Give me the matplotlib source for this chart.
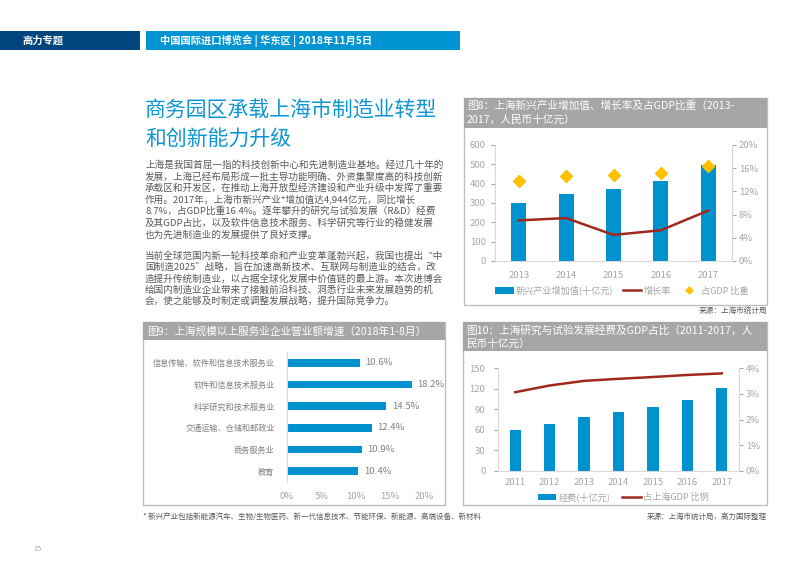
import numpy as np
import matplotlib
matplotlib.use('Agg')
import matplotlib.pyplot as plt
from matplotlib.patches import Rectangle
from matplotlib.lines import Line2D
from matplotlib.ticker import FuncFormatter

plt.rcParams['font.family'] = ['Noto Sans CJK SC', 'DejaVu Sans']

# 图8 数据
years8 = ['2013', '2014', '2015', '2016', '2017']
added_value = [298, 344, 372, 416, 494]      # 新兴产业增加值(十亿元)
growth_rate = [7.0, 7.4, 4.5, 5.3, 8.7]      # 增长率 %
gdp_share = [13.8, 14.6, 14.9, 15.1, 16.4]   # 占GDP比重 %

# 图9 数据
services = ['信息传输、软件和信息技术服务业', '软件和信息技术服务业', '科学研究和技术服务业',
            '交通运输、仓储和邮政业', '商务服务业', '教育']
service_growth = [10.6, 18.2, 14.5, 12.4, 10.9, 10.4]

# 图10 数据
years10 = ['2011', '2012', '2013', '2014', '2015', '2016', '2017']
rd_spend = [60, 68, 78, 86, 93, 103, 121]                 # 经费(十亿元)
rd_gdp = [3.06, 3.32, 3.50, 3.58, 3.65, 3.73, 3.79]       # 占上海GDP比例 %

body1 = ['上海是我国首屈一指的科技创新中心和先进制造业基地。经过几十年的',
         '发展，上海已经布局形成一批主导功能明确、外资集聚度高的科技创新',
         '承载区和开发区，在推动上海开放型经济建设和产业升级中发挥了重要',
         '作用。2017年，上海市新兴产业*增加值达4,944亿元，同比增长',
         '8.7%，占GDP比重16.4%。逐年攀升的研究与试验发展（R&D）经费',
         '及其GDP占比，以及软件信息技术服务、科学研究等行业的稳健发展',
         '也为先进制造业的发展提供了良好支撑。']
body2 = ['当前全球范围内新一轮科技革命和产业变革蓬勃兴起，我国也提出“中',
         '国制造2025”战略，旨在加速高新技术、互联网与制造业的结合，改',
         '造提升传统制造业，以占据全球化发展中价值链的最上游。本次进博会',
         '给国内制造业企业带来了接触前沿科技、洞悉行业未来发展趋势的机',
         '会，使之能够及时制定或调整发展战略，提升国际竞争力。']

BLUE = '#0091cf'
RED = '#a0291c'
GOLD = '#ffc000'
GRID = '#d9d9d9'
TICK = '#a6a6a6'
HEAD = '#a6a6a6'
TXT = '#595959'

W, H = 800, 566
fig = plt.figure(figsize=(8, 5.66), dpi=100)


def fx(x):
    return x / W


def fy(y):
    return 1 - y / H


def axes_px(x0, y0, x1, y1):
    return fig.add_axes([fx(x0), fy(y1), (x1 - x0) / W, (y1 - y0) / H])


def rect_px(x0, y0, x1, y1, **kw):
    fig.patches.append(Rectangle((fx(x0), fy(y1)), (x1 - x0) / W, (y1 - y0) / H,
                                 transform=fig.transFigure, **kw))


def text_px(x, y, s, **kw):
    fig.text(fx(x), fy(y), s, **kw)


# 顶部横条
rect_px(0, 31, 140, 50, facecolor='#00457c', edgecolor='none')
rect_px(146, 31, 460, 50, facecolor='#0094d3', edgecolor='none')
text_px(22, 41, '高力专题', color='white', fontsize=7.4, fontweight='bold', va='center')
text_px(160, 41, '中国国际进口博览会 | 华东区 | 2018年11月5日', color='white',
        fontsize=7.4, fontweight='bold', va='center')

# 标题和正文
text_px(145, 111, '商务园区承载上海市制造业转型', color='#0d96d4', fontsize=15, va='center')
text_px(145, 140, '和创新能力升级', color='#0d96d4', fontsize=15, va='center')
for i, line in enumerate(body1):
    text_px(145, 165 + i * 11.6, line, color=TXT, fontsize=6.9, va='center')
for i, line in enumerate(body2):
    text_px(145, 256 + i * 11.3, line, color=TXT, fontsize=6.9, va='center')

# 图框
for (x0, y0, x1, y1, hb) in [(464, 98, 767, 305, 128), (143, 322, 445, 505, 340),
                             (463, 322, 767, 505, 351)]:
    rect_px(x0, y0, x1, y1, facecolor='none', edgecolor='#bfbfbf', linewidth=1)
    rect_px(x0, y0, x1, hb, facecolor=HEAD, edgecolor='none')

text_px(467, 106, '图8：上海新兴产业增加值、增长率及占GDP比重（2013-', color='white', fontsize=7.7, va='center')
text_px(467, 120, '2017，人民币十亿元）', color='white', fontsize=7.7, va='center')
text_px(147, 331, '图9：上海规模以上服务业企业营业额增速（2018年1-8月）', color='white', fontsize=7.7, va='center')
text_px(466, 330, '图10：上海研究与试验发展经费及GDP占比（2011-2017，人', color='white', fontsize=7.7, va='center')
text_px(466, 344, '民币十亿元）', color='white', fontsize=7.7, va='center')
text_px(767, 312, '来源：上海市统计局', color=TXT, fontsize=5.5, ha='right', va='center')


def style_axis(ax, spines):
    for s in ['top', 'right', 'left', 'bottom']:
        ax.spines[s].set_visible(s in spines)
        ax.spines[s].set_color(GRID)
        ax.spines[s].set_linewidth(0.8)
    ax.set_facecolor('none')
    ax.tick_params(colors=TICK, labelsize=6.8, length=3, width=0.8, labelcolor=TICK)


pct = FuncFormatter(lambda v, p: '%d%%' % v)

# 图8
ax8 = axes_px(495, 145, 732, 261)
x8 = np.arange(len(years8))
b8 = ax8.bar(x8, added_value, width=0.32, color=BLUE, label='新兴产业增加值(十亿元)')
ax8.set_xlim(-0.5, 4.5)
ax8.set_ylim(0, 600)
ax8.set_yticks(range(0, 601, 100))
ax8.set_xticks(x8)
ax8.set_xticklabels(years8)
style_axis(ax8, ['left', 'bottom'])
ax8.tick_params(axis='x', length=0, pad=7)
ax8r = ax8.twinx()
ax8r.set_ylim(0, 20)
ax8r.set_yticks(range(0, 21, 4))
ax8r.yaxis.set_major_formatter(pct)
l8, = ax8r.plot(x8, growth_rate, color=RED, linewidth=1.8, label='增长率')
d8, = ax8r.plot(x8, gdp_share, linestyle='none', marker='D', markersize=6,
                color=GOLD, label='占GDP 比重')
style_axis(ax8r, ['right'])
ax8r.tick_params(axis='y', pad=2)
ax8.legend(handles=[b8, l8, Line2D([], [], linestyle='none', marker='D', markersize=3.5, color=GOLD)],
           labels=['新兴产业增加值(十亿元)', '增长率', '占GDP 比重'],
           loc='center', bbox_to_anchor=(0.535, -0.255), ncol=3, frameon=False,
           fontsize=6.6, labelcolor=TICK, handlelength=2.0, handletextpad=0.25,
           columnspacing=1.0, borderaxespad=0)

# 图9
ax9 = axes_px(287, 352, 424, 482)
y9 = np.arange(len(services))
ax9.barh(y9, service_growth, height=0.34, color=BLUE)
ax9.set_xlim(0, 20)
ax9.set_ylim(5.5, -0.5)
ax9.set_yticks(y9)
ax9.set_yticklabels(services)
ax9.set_xticks(range(0, 21, 5))
ax9.xaxis.set_major_formatter(pct)
style_axis(ax9, ['left'])
ax9.tick_params(axis='both', length=0)
ax9.tick_params(axis='y', pad=9, labelcolor='#808080', labelsize=5.9)
ax9.tick_params(axis='x', pad=7)
for yi, v in zip(y9, service_growth):
    ax9.text(v + 0.8, yi, '%.1f%%' % v, va='center', ha='left', fontsize=6.8, color='#808080')

# 图10
ax10 = axes_px(498, 368, 739, 471)
x10 = np.arange(len(years10))
b10 = ax10.bar(x10, rd_spend, width=0.33, color=BLUE, label='经费(十亿元)')
ax10.set_xlim(-0.5, 6.5)
ax10.set_ylim(0, 150)
ax10.set_yticks(range(0, 151, 30))
ax10.set_xticks(x10)
ax10.set_xticklabels(years10)
style_axis(ax10, ['left', 'bottom'])
ax10.tick_params(axis='x', length=0, pad=5)
ax10.tick_params(axis='y', pad=6)
ax10r = ax10.twinx()
ax10r.set_ylim(0, 4)
ax10r.set_yticks(range(0, 5))
ax10r.yaxis.set_major_formatter(pct)
l10, = ax10r.plot(x10, rd_gdp, color=RED, linewidth=1.8, label='占上海GDP 比例')
style_axis(ax10r, ['right'])
ax10r.tick_params(axis='y', pad=2)
ax10.legend(handles=[b10, l10], labels=['经费(十亿元)', '占上海GDP 比例'],
            loc='center', bbox_to_anchor=(0.52, -0.255), ncol=2, frameon=False,
            fontsize=6.6, labelcolor=TICK, handlelength=2.0, handletextpad=0.25,
            columnspacing=1.3, borderaxespad=0)

# 脚注
text_px(143, 517, '* 新兴产业包括新能源汽车、生物/生物医药、新一代信息技术、节能环保、新能源、高端设备、新材料',
        color=TXT, fontsize=5.4, va='center')
text_px(767, 517, '来源：上海市统计局，高力国际整理', color=TXT, fontsize=5.4, ha='right', va='center')
text_px(33, 549, '15', color=TICK, fontsize=5.4, va='center')

fig.savefig('out.png', dpi=100)
